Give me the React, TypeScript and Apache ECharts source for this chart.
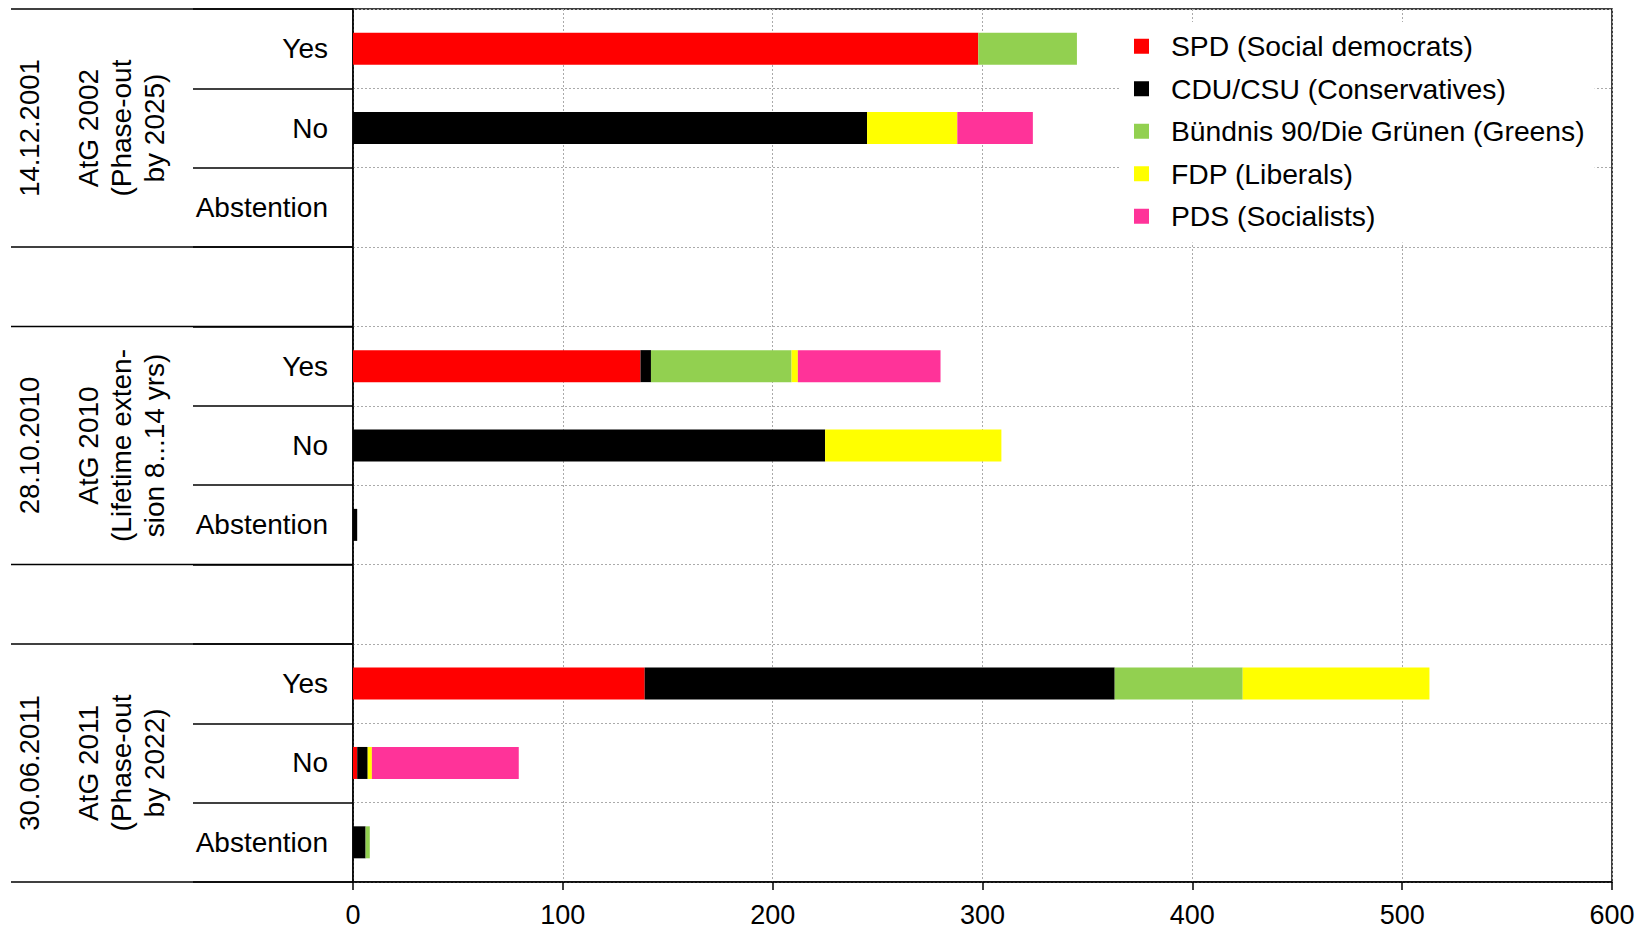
import React, { useEffect, useRef } from "react";
import * as echarts from "echarts";

const categories = ["Yes", "No", "Abstention", "", "Yes", "No", "Abstention", "", "Yes", "No", "Abstention"];
const groupStarts = [0, 4, 8];
const groupDates = ["14.12.2001", "28.10.2010", "30.06.2011"];
const groupTitles = [
  "AtG 2002\n(Phase-out\nby 2025)",
  "AtG 2010\n(Lifetime exten-\nsion 8...14 yrs)",
  "AtG 2011\n(Phase-out\nby 2022)",
];

const partyNames = [
  "SPD (Social democrats)",
  "CDU/CSU (Conservatives)",
  "Bündnis 90/Die Grünen (Greens)",
  "FDP (Liberals)",
  "PDS (Socialists)",
];
const partyColors = ["#ff0000", "#000000", "#92d050", "#ffff00", "#ff3399"];

const spd = [298, null, null, null, 137, null, null, null, 139, 2, null];
const cdu = [null, 245, null, null, 5, 225, 2, null, 224, 5, 6];
const greens = [47, null, null, null, 67, null, null, null, 61, null, 2];
const fdp = [null, 43, null, null, 3, 84, null, null, 89, 2, null];
const pds = [null, 36, null, null, 68, null, null, null, null, 70, null];

const xTicks = { min: 0, max: 600, interval: 100 };

const FONT = "'Liberation Sans', Arial, Helvetica, sans-serif";

export default function App() {
  const ref = useRef<HTMLDivElement>(null);
  useEffect(() => {
    if (!ref.current) return;
    const chart = echarts.init(ref.current, null, { renderer: "svg" });
    const seriesData = [spd, cdu, greens, fdp, pds];
    const option: any = {
      animation: false,
      backgroundColor: "#ffffff",
      textStyle: { fontFamily: FONT },
      grid: {
        left: 353,
        top: 9,
        right: 26,
        bottom: 47,
        show: true,
        borderColor: "#000",
        borderWidth: 1.5,
        backgroundColor: "transparent",
      },
      legend: {
        orient: "vertical",
        left: 1120,
        top: 22,
        padding: [3, 10, 5, 14],
        backgroundColor: "#ffffff",
        itemWidth: 15,
        itemHeight: 15,
        itemGap: 0,
        icon: "rect",
        data: partyNames,
        textStyle: {
          fontSize: 28.3,
          lineHeight: 42.5,
          color: "#000",
          fontFamily: FONT,
          padding: [0, 0, 0, 17],
        },
      },
      xAxis: {
        type: "value",
        min: xTicks.min,
        max: xTicks.max,
        interval: xTicks.interval,
        axisLine: { show: true, lineStyle: { color: "#000", width: 1.5 } },
        axisTick: { show: true, length: 8, lineStyle: { color: "#000", width: 1.5 } },
        axisLabel: { fontSize: 27, color: "#000", margin: 19, fontFamily: FONT },
        splitLine: { show: true, lineStyle: { color: "#aaa", width: 1, type: [2, 2] } },
      },
      yAxis: {
        type: "category",
        inverse: true,
        data: categories.map((c, i) => i + ":" + c),
        boundaryGap: true,
        axisLine: { show: true, lineStyle: { color: "#000", width: 1.5 } },
        axisTick: { show: true, length: 160, lineStyle: { color: "#000", width: 1.5 } },
        axisLabel: {
          fontSize: 28,
          color: "#000",
          margin: 25,
          fontFamily: FONT,
          formatter: (v: string) => v.slice(v.indexOf(":") + 1),
        },
        splitLine: { show: true, lineStyle: { color: "#aaa", width: 1, type: [2, 2] } },
      },
      series: partyNames.map((name, k) => ({
        name,
        type: "bar",
        stack: "votes",
        barWidth: 32,
        itemStyle: { color: partyColors[k] },
        data: seriesData[k],
      })),
    };
    chart.setOption(option);

    const y0 = chart.convertToPixel({ yAxisIndex: 0 }, 0) as number;
    const y1 = chart.convertToPixel({ yAxisIndex: 0 }, 1) as number;
    const rowH = y1 - y0;
    const axisX = chart.convertToPixel({ xAxisIndex: 0 }, 0) as number;
    const graphics: any[] = [];
    groupStarts.forEach((s, g) => {
      const c = chart.convertToPixel({ yAxisIndex: 0 }, s + 1) as number;
      const top = c - 1.5 * rowH;
      const bottom = c + 1.5 * rowH;
      [top, bottom].forEach((yy) => {
        graphics.push({
          type: "line",
          shape: { x1: 11, y1: yy, x2: axisX, y2: yy },
          style: { stroke: "#000", lineWidth: 1.5 },
          silent: true,
        });
      });
      graphics.push({
        type: "text",
        x: 29,
        y: c,
        rotation: Math.PI / 2,
        style: {
          text: groupDates[g],
          align: "center",
          verticalAlign: "middle",
          fontSize: 27.5,
          fontFamily: FONT,
          fill: "#000",
        },
      });
      graphics.push({
        type: "text",
        x: 121,
        y: c,
        rotation: Math.PI / 2,
        style: {
          text: groupTitles[g],
          align: "center",
          verticalAlign: "middle",
          fontSize: 28,
          lineHeight: 33,
          fontFamily: FONT,
          fill: "#000",
        },
      });
    });
    chart.setOption({ graphic: graphics });

    return () => chart.dispose();
  }, []);
  return (
    <div
      ref={ref}
      style={{ position: "fixed", left: 0, top: 0, width: 1638, height: 929 }}
    />
  );
}
